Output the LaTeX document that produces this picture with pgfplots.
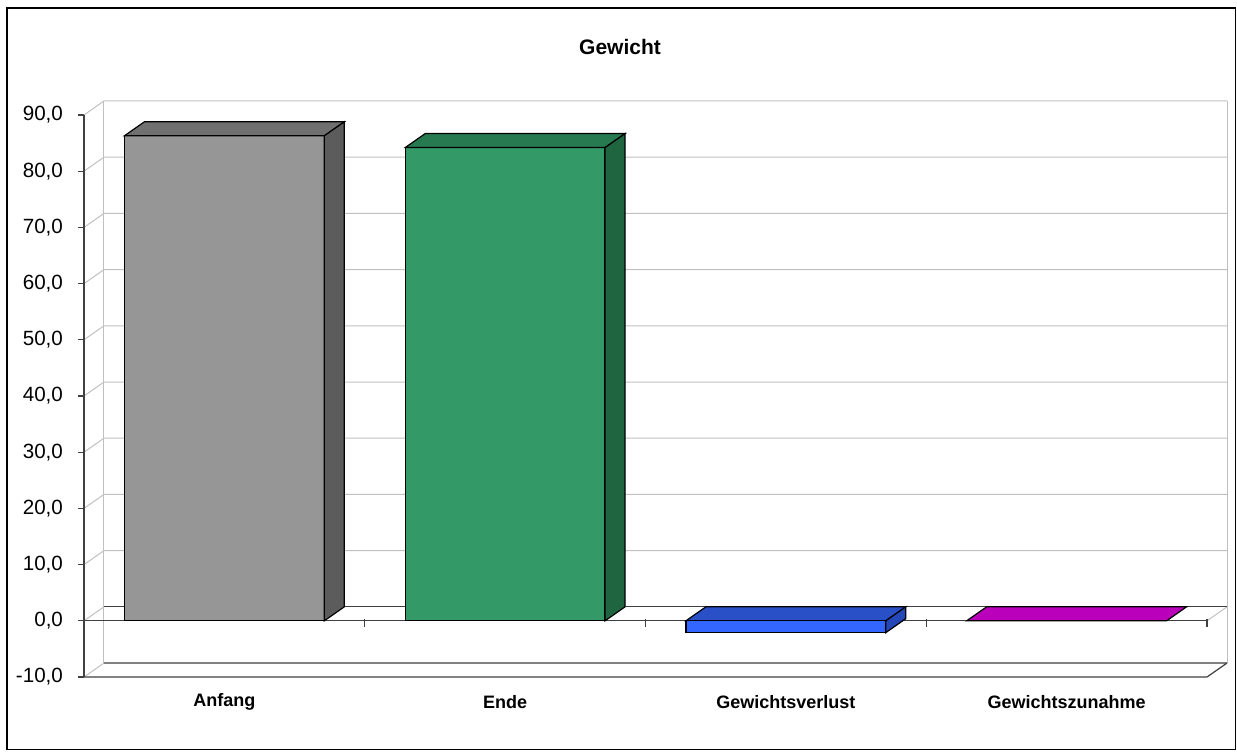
\documentclass[border=0pt]{standalone}
\usepackage{pgfplots}
\pgfplotsset{compat=1.18}
\usepackage{fontspec}
\setmainfont{Liberation Sans}
\definecolor{gridgray}{HTML}{C0C0C0}
\definecolor{edgegray}{HTML}{404040}
\definecolor{floorgray}{HTML}{808080}
\definecolor{aFront}{HTML}{969696}
\definecolor{aTop}{HTML}{707070}
\definecolor{aSide}{HTML}{5C5C5C}
\definecolor{eFront}{HTML}{339966}
\definecolor{eTop}{HTML}{277A50}
\definecolor{eSide}{HTML}{1F6640}
\definecolor{vFront}{HTML}{3366FF}
\definecolor{vTop}{HTML}{2A50C8}
\definecolor{vSide}{HTML}{2448B8}
\definecolor{zTop}{HTML}{BB00BB}
\tikzset{gridln/.style={gridgray, line width=0.5pt}, edgeln/.style={edgegray, line width=0.6pt}}
\begin{document}
\begin{tikzpicture}
\useasboundingbox (0,0) rectangle (618.5pt,375.5pt);
\draw[black, line width=0.6pt] (3.5pt,0.75pt) rectangle (617.75pt,371.5pt);
\node[font=\bfseries\fontsize{10.5pt}{12pt}\selectfont] at (310pt,352pt) {Gewicht};
\begin{axis}[
  at={(42pt,37pt)}, anchor=south west,
  scale only axis, width=571.5pt, height=288pt,
  xmin=-0.5, xmax=3.5712, ymin=-10, ymax=92.49,
  clip=false,
  axis line style={draw=none},
  ytick={-10,0,10,20,30,40,50,60,70,80,90},
  ytick pos=left,
  tick align=outside,
  major tick length=3pt,
  ytick style={draw=edgegray, line width=0.6pt},
  y tick label style={/pgf/number format/.cd, fixed, fixed zerofill, precision=1, use comma, assume math mode=true, /tikz/.cd, font=\fontsize{10.3pt}{12pt}\selectfont, xshift=-4pt},
  xtick={0,1,2,3},
  xticklabels={Anfang,Ende,Gewichtsverlust,Gewichtszunahme},
  xtick style={draw=none},
  x tick label style={font=\bfseries\fontsize{9pt}{10pt}\selectfont, anchor=center, yshift=-9.5pt},
]
% back wall and gridlines
\draw[gridln] (axis cs:-0.4288,-7.51) -- (axis cs:-0.4288,92.49);
\draw[gridln] (axis cs:3.5712,-7.51) -- (axis cs:3.5712,92.49);
\draw[gridln] (axis cs:-0.5,10) -- (axis cs:-0.4288,12.49) -- (axis cs:3.5712,12.49);
\draw[gridln] (axis cs:-0.5,20) -- (axis cs:-0.4288,22.49) -- (axis cs:3.5712,22.49);
\draw[gridln] (axis cs:-0.5,30) -- (axis cs:-0.4288,32.49) -- (axis cs:3.5712,32.49);
\draw[gridln] (axis cs:-0.5,40) -- (axis cs:-0.4288,42.49) -- (axis cs:3.5712,42.49);
\draw[gridln] (axis cs:-0.5,50) -- (axis cs:-0.4288,52.49) -- (axis cs:3.5712,52.49);
\draw[gridln] (axis cs:-0.5,60) -- (axis cs:-0.4288,62.49) -- (axis cs:3.5712,62.49);
\draw[gridln] (axis cs:-0.5,70) -- (axis cs:-0.4288,72.49) -- (axis cs:3.5712,72.49);
\draw[gridln] (axis cs:-0.5,80) -- (axis cs:-0.4288,82.49) -- (axis cs:3.5712,82.49);
\draw[gridln] (axis cs:-0.5,90) -- (axis cs:-0.4288,92.49) -- (axis cs:3.5712,92.49);
\draw[gridln] (axis cs:-0.5,0) -- (axis cs:-0.4288,2.49);
\draw[gridln] (axis cs:-0.5,-10) -- (axis cs:-0.4288,-7.51);
\draw[gridln] (axis cs:3.5,0) -- (axis cs:3.5712,2.49);
% floor
\draw[floorgray, line width=0.6pt] (axis cs:-0.4288,-7.51) -- (axis cs:3.5712,-7.51);
\draw[edgeln] (axis cs:-0.5,-10) -- (axis cs:3.5,-10) -- (axis cs:3.5712,-7.51);
% zero plane
\draw[edgeln] (axis cs:-0.4288,2.49) -- (axis cs:3.5712,2.49);
\draw[edgeln] (axis cs:-0.5,0) -- (axis cs:3.5,0);
% front value axis
\draw[edgeln] (axis cs:-0.5,-10) -- (axis cs:-0.5,90);

% Anfang 86.3
\addplot[ybar, bar width=0.712, bar shift=0pt, fill=aFront, draw=black, line width=0.6pt] coordinates {(0,86.3)};
\addplot[mark=none, fill=aTop, draw=black, line width=0.6pt] coordinates {(-0.356,86.3) (0.356,86.3) (0.4272,88.79) (-0.2848,88.79)} -- cycle;
\addplot[mark=none, fill=aSide, draw=black, line width=0.6pt] coordinates {(0.356,0) (0.356,86.3) (0.4272,88.79) (0.4272,2.49)} -- cycle;
% Ende 84.2
\addplot[ybar, bar width=0.712, bar shift=0pt, fill=eFront, draw=black, line width=0.6pt] coordinates {(1,84.2)};
\addplot[mark=none, fill=eTop, draw=black, line width=0.6pt] coordinates {(0.644,84.2) (1.356,84.2) (1.4272,86.69) (0.7152,86.69)} -- cycle;
\addplot[mark=none, fill=eSide, draw=black, line width=0.6pt] coordinates {(1.356,0) (1.356,84.2) (1.4272,86.69) (1.4272,2.49)} -- cycle;
% Gewichtsverlust -2.1
\addplot[mark=none, fill=vTop, draw=black, line width=0.6pt] coordinates {(1.644,0) (2.356,0) (2.4272,2.49) (1.7152,2.49)} -- cycle;
\addplot[mark=none, fill=vSide, draw=black, line width=0.6pt] coordinates {(2.356,-2.1) (2.356,0) (2.4272,2.49) (2.4272,0.39)} -- cycle;
\addplot[ybar, bar width=0.712, bar shift=0pt, fill=vFront, draw=black, line width=0.6pt] coordinates {(2,-2.1)};
% Gewichtszunahme 0
\addplot[mark=none, fill=zTop, draw=black, line width=0.6pt] coordinates {(2.644,0) (3.356,0) (3.4272,2.49) (2.7152,2.49)} -- cycle;

% category ticks
\draw[edgeln] (axis cs:0.5,0.4) -- (axis cs:0.5,-1.1);
\draw[edgeln] (axis cs:1.5,0.4) -- (axis cs:1.5,-1.1);
\draw[edgeln] (axis cs:2.5,0.4) -- (axis cs:2.5,-1.1);
\draw[edgeln] (axis cs:3.5,0.4) -- (axis cs:3.5,-1.1);
\end{axis}
\end{tikzpicture}
\end{document}
